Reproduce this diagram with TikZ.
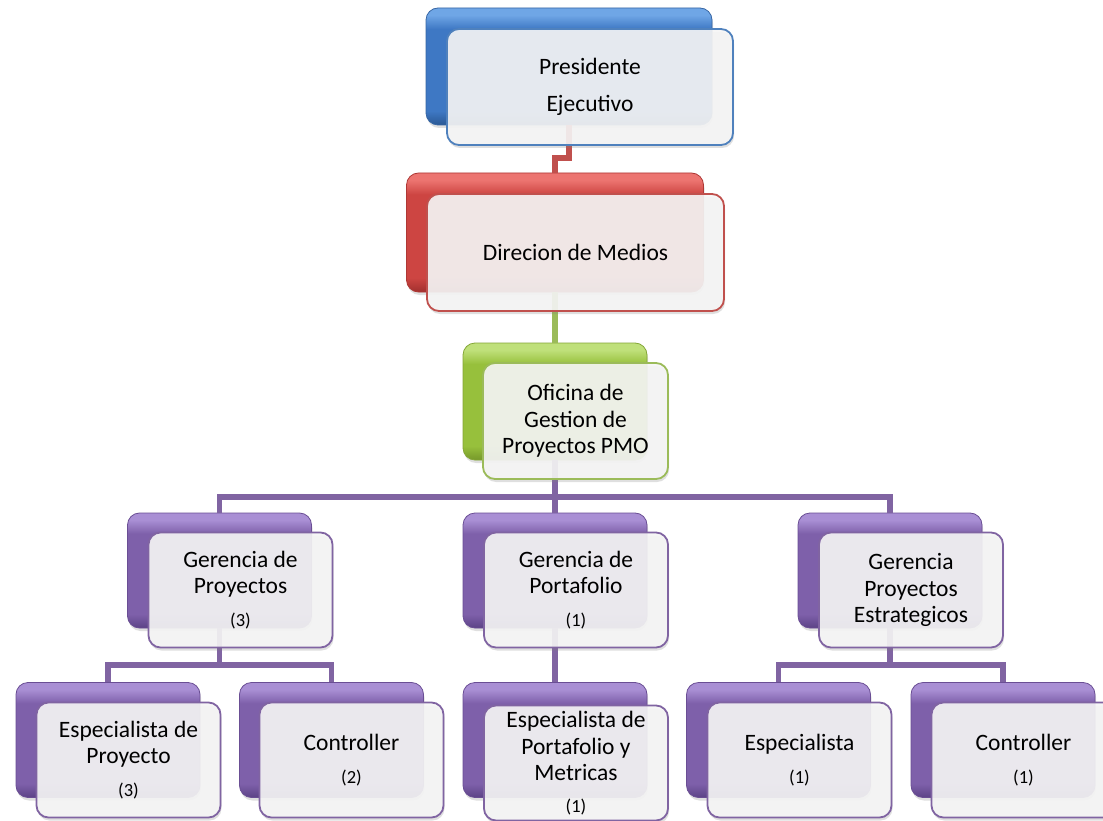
\documentclass[tikz,border=0pt]{standalone}
\usepackage{fontspec}
\setmainfont{Carlito}
\usetikzlibrary{shadows}

% palette: base, light top, dark bottom, back-box edge, connector/card line
\definecolor{bluebase}{HTML}{3E78C4}\definecolor{bluetop}{HTML}{6FA6E6}
\definecolor{bluebot}{HTML}{2A5894}\definecolor{blueedge}{HTML}{3766A4}
\definecolor{blueline}{HTML}{4F81BD}
\definecolor{redbase}{HTML}{CD4542}\definecolor{redtop}{HTML}{EC7470}
\definecolor{redbot}{HTML}{A1302E}\definecolor{rededge}{HTML}{AE3835}
\definecolor{redline}{HTML}{C0504D}
\definecolor{greenbase}{HTML}{97C03C}\definecolor{greentop}{HTML}{BFE07A}
\definecolor{greenbot}{HTML}{76982A}\definecolor{greenedge}{HTML}{84A636}
\definecolor{greenline}{HTML}{9BBB59}
\definecolor{purplebase}{HTML}{7E60AA}\definecolor{purpletop}{HTML}{A98FD4}
\definecolor{purplebot}{HTML}{5C4286}\definecolor{purpleedge}{HTML}{6A4E94}
\definecolor{purpleline}{HTML}{8064A2}
\definecolor{cardfill}{HTML}{F6F6F6}

% glossy plate shadings: bright rim on top, flat body, darker foot
% (the path spans 25bp..75bp of the shading)
\newcommand\plateshading[1]{%
  \pgfdeclareverticalshading{#1plate}{100bp}{%
    color(0bp)=(#1bot); color(25bp)=(#1bot); color(31bp)=(#1base);
    color(66bp)=(#1base); color(72bp)=(#1top); color(75bp)=(#1top);
    color(100bp)=(#1top)}}
\plateshading{blue}\plateshading{red}\plateshading{green}\plateshading{purple}

\newcommand\mainsz{\fontsize{23.5}{26.5}\selectfont}
\newcommand\numsz{\fontsize{18.5}{21}\selectfont}

\tikzset{
  backbox/.style={rectangle, rounded corners=12pt, draw=#1edge, line width=0.8pt,
    shading=#1plate,
    minimum width=184pt, minimum height=115pt, inner sep=0pt,
    drop shadow={opacity=0.25, shadow xshift=1pt, shadow yshift=-3pt}},
  frontbox/.style={rectangle, rounded corners=12pt, draw=#1line, line width=1.8pt,
    fill=cardfill, fill opacity=0.9, text opacity=1, draw opacity=1,
    minimum width=184pt, minimum height=115pt, inner sep=2pt,
    align=center, font=\mainsz, text=black,
    drop shadow={opacity=0.25, shadow xshift=1pt, shadow yshift=-3pt}},
  link/.style={draw=#1line, line width=5.5pt}
}

\begin{document}
\begin{tikzpicture}[x=1pt, y=-1pt]
  \fill[white] (0,0) rectangle (1103,821);
  \useasboundingbox (0,0) rectangle (1103,821);

  % rows of the chart: coloured back plates
  \node[backbox=blue, minimum width=286pt, minimum height=117pt] (presB) at (569,66.5) {};
  \node[backbox=red, minimum width=297pt, minimum height=119pt] (dirB) at (555,232.5) {};
  \node[backbox=green, minimum height=117pt] (ofiB) at (555,401.5) {};
  \node[backbox=purple] (gpB) at (219.5,570.5) {};
  \node[backbox=purple] (gportB) at (555,570.5) {};
  \node[backbox=purple] (gpeB) at (890,570.5) {};
  \node[backbox=purple] (epB) at (108,740) {};
  \node[backbox=purple] (c2B) at (331.5,740) {};
  \node[backbox=purple] (epmB) at (555,740) {};
  \node[backbox=purple] (espB) at (778.5,740) {};
  \node[backbox=purple] (c1B) at (1003,740) {};

  % junction heights of the bus lines
  \coordinate (jog) at (0,158);
  \coordinate (busA) at (0,497);
  \coordinate (busB) at (0,665);

  % connectors (drawn before the cards so they show faintly through them)
  \draw[link=red] (presB.south) -- (presB.south |- jog) -- (dirB.north |- jog) -- (dirB.north);
  \draw[link=green] (dirB.south) -- (ofiB.north);
  \draw[link=purple] (ofiB.south) -- (gportB.north);
  \draw[link=purple] (gpB.north) -- (gpB.north |- busA) -- (gpeB.north |- busA) -- (gpeB.north);
  \draw[link=purple] (gpB.south) -- (gpB.south |- busB);
  \draw[link=purple] (epB.north) -- (epB.north |- busB) -- (c2B.north |- busB) -- (c2B.north);
  \draw[link=purple] (gportB.south) -- (epmB.north);
  \draw[link=purple] (gpeB.south) -- (gpeB.south |- busB);
  \draw[link=purple] (espB.north) -- (espB.north |- busB) -- (c1B.north |- busB) -- (c1B.north);

  % translucent cards carrying the titles
  \node[frontbox=blue, minimum width=286pt, minimum height=116pt] (pres) at (590,87)
    {Presidente\\[10pt]Ejecutivo};
  \node[frontbox=red, minimum width=297pt, minimum height=117pt] (dir) at (575.5,252.5)
    {Direcion de Medios};
  \node[frontbox=green, minimum width=185pt, minimum height=116pt] (ofi) at (575.5,421)
    {Oficina de\\Gestion de\\Proyectos PMO};
  \node[frontbox=purple] (gp) at (240.5,590)
    {Gerencia de\\Proyectos\\[6pt]{\numsz (3)}};
  \node[frontbox=purple] (gport) at (576,590)
    {Gerencia de\\Portafolio\\[6pt]{\numsz (1)}};
  \node[frontbox=purple] (gpe) at (911,590)
    {Gerencia\\Proyectos\\Estrategicos};
  \node[frontbox=purple] (ep) at (128.5,760)
    {Especialista de\\Proyecto\\[6pt]{\numsz (3)}};
  \node[frontbox=purple] (c2) at (351.5,760)
    {Controller\\[6pt]{\numsz (2)}};
  \node[frontbox=purple] (epm) at (576,763)
    {Especialista de\\Portafolio y\\Metricas\\[5pt]{\numsz (1)}};
  \node[frontbox=purple] (esp) at (799.5,760)
    {Especialista\\[6pt]{\numsz (1)}};
  \node[frontbox=purple] (c1) at (1023.5,760)
    {Controller\\[6pt]{\numsz (1)}};
\end{tikzpicture}
\end{document}
